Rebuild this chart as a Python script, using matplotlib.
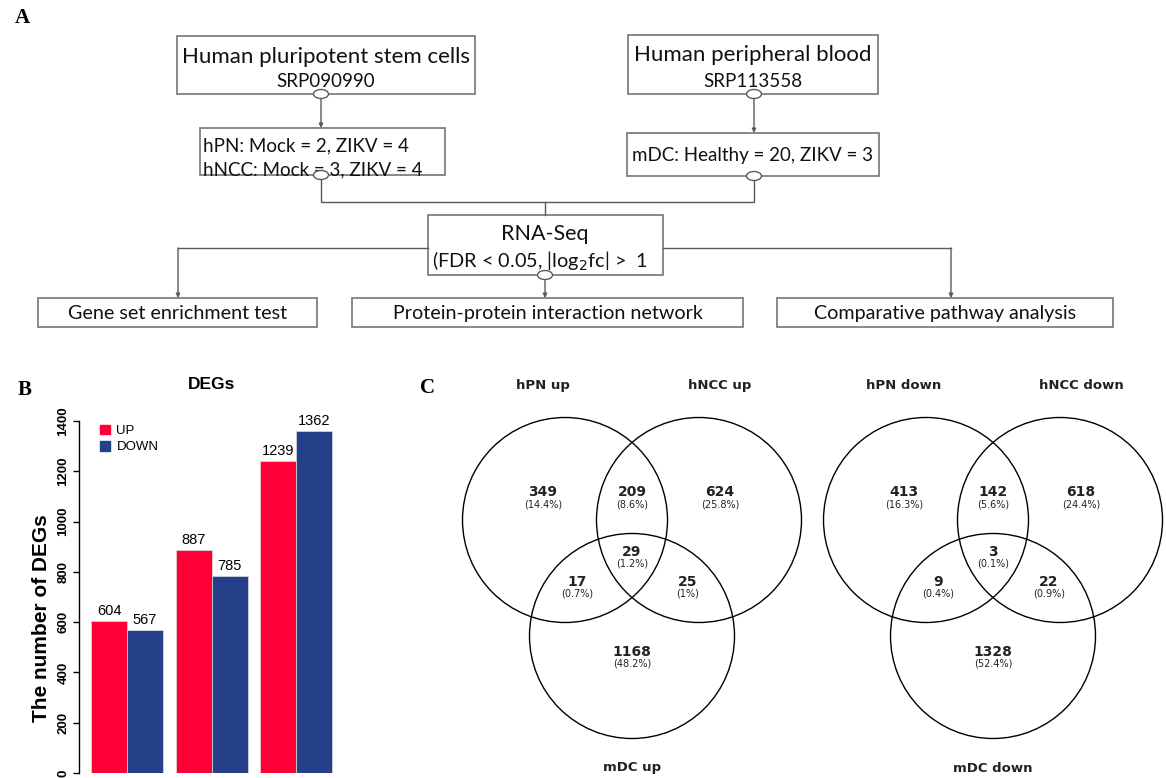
import matplotlib
matplotlib.use("Agg")
import matplotlib.pyplot as plt
from matplotlib.patches import Rectangle, Ellipse, Circle, Patch
import numpy as np

# ---- data -------------------------------------------------------------
deg_groups = ["hPN", "hNCC", "mDC"]
deg_up = [604, 887, 1239]
deg_down = [567, 785, 1362]
deg_yticks = [0, 200, 400, 600, 800, 1000, 1200, 1400]

venn_up_sets = ["hPN up", "hNCC up", "mDC up"]
venn_down_sets = ["hPN down", "hNCC down", "mDC down"]
# region order: A only, AB, B only, ABC, AC, BC, C only
venn_up_counts = [349, 209, 624, 29, 17, 25, 1168]
venn_down_counts = [413, 142, 618, 3, 9, 22, 1328]

flow_sources = ["Human pluripotent stem cells\nSRP090990", "Human peripheral blood\nSRP113558"]
flow_samples = ["hPN: Mock = 2, ZIKV = 4\nhNCC: Mock = 3, ZIKV = 4", "mDC: Healthy = 20, ZIKV = 3"]
flow_analyses = ["Gene set enrichment test", "Protein-protein interaction network",
                 "Comparative pathway analysis"]

RED = "#ff0036"
BLUE = "#263f89"
BOX_EDGE = "#808080"
LINE = "#5a5a5a"
FLOW_FONT = "Lato"

W, H = 1166, 778
fig = plt.figure(figsize=(W / 100, H / 100), dpi=100)
bg = fig.add_axes([0, 0, 1, 1])
bg.set_xlim(0, W)
bg.set_ylim(H, 0)
bg.axis("off")


def box(x0, y0, x1, y1):
    bg.add_patch(Rectangle((x0, y0), x1 - x0, y1 - y0, fill=False,
                           edgecolor=BOX_EDGE, lw=1.3))


def knob(x, y):
    bg.add_patch(Ellipse((x, y), 15, 9, facecolor="white", edgecolor=LINE,
                         lw=1.0, zorder=5))


def path(xs, ys, arrow=False):
    bg.plot(xs[:-1] if arrow else xs, ys[:-1] if arrow else ys,
            color=LINE, lw=1.0, solid_joinstyle="miter")
    if arrow:
        bg.annotate("", xy=(xs[-1], ys[-1]), xytext=(xs[-2], ys[-2]),
                    arrowprops=dict(arrowstyle="-|>", color=LINE, lw=1.0,
                                    mutation_scale=6, shrinkA=0, shrinkB=0))


def ftext(x, y, s, size=14, ha="center"):
    bg.text(x, y, s, ha=ha, va="center", fontsize=size, family=FLOW_FONT,
            color="#111111")


# ---- panel A : flow chart ---------------------------------------------
bg.text(15, 18, "A", fontsize=15, fontweight="bold", family="Liberation Serif",
        va="center")

box(177, 36, 475, 94)
l1, l2 = flow_sources[0].split("\n")
ftext(326, 57, l1, 16)
ftext(326, 81, l2, 13.5)
box(200, 128, 445, 175)
l1, l2 = flow_samples[0].split("\n")
ftext(203, 146, l1, 13.5, ha="left")
ftext(203, 170, l2, 13.5, ha="left")

box(628, 35, 878, 94)
l1, l2 = flow_sources[1].split("\n")
ftext(753, 55, l1, 16)
ftext(753, 81, l2, 13.5)
box(627, 133, 879, 176)
ftext(753, 155, flow_samples[1], 13.5)

path([321, 321], [98, 128], arrow=True)
path([754, 754], [98, 133], arrow=True)
path([321, 321, 754, 754], [179, 202, 202, 180])
path([545, 545], [202, 215])

box(428, 215, 663, 275)
ftext(545, 234, "RNA-Seq", 15.5)
ftext(540, 261, r"(FDR < 0.05, |log$_2$fc| >  1", 14.3)

path([545, 545], [279, 298], arrow=True)
path([428, 178, 178], [248, 248, 298], arrow=True)
path([663, 951, 951], [248, 248, 298], arrow=True)

for (x0, x1), label in zip([(38, 317), (352, 743), (777, 1113)], flow_analyses):
    box(x0, 298, x1, 327)
    ftext((x0 + x1) / 2, 313, label, 14.2)

for kx, ky in [(321, 94), (321, 175), (754, 94), (754, 176), (545, 275)]:
    knob(kx, ky)

# ---- panel B : bar chart ----------------------------------------------
bg.text(18, 390, "B", fontsize=15, fontweight="bold", family="Liberation Serif",
        va="center")
bg.text(212, 384, "DEGs", fontsize=12.5, fontweight="bold",
        family="Liberation Sans", ha="center", va="center")

ax_l, ax_r, ax_top, ax_bot = 79, 345, 421, 773
bx = fig.add_axes([ax_l / W, (H - ax_bot) / H, (ax_r - ax_l) / W,
                   (ax_bot - ax_top) / H])
bx.patch.set_alpha(0)
step = 2.35
centers = np.arange(len(deg_groups)) * step
bx.bar(centers - 0.5, deg_up, width=1.0, color=RED, edgecolor="#dddddd",
       lw=0.5, label="UP")
bx.bar(centers + 0.5, deg_down, width=1.0, color=BLUE, edgecolor="#dddddd",
       lw=0.5, label="DOWN")
for c, u, d in zip(centers, deg_up, deg_down):
    bx.text(c - 0.5, u + 12, str(u), ha="center", va="bottom", fontsize=10.5,
            family="Liberation Sans")
    bx.text(c + 0.5, d + 12, str(d), ha="center", va="bottom", fontsize=10.5,
            family="Liberation Sans")
bx.set_xlim((ax_l - 127) / 36, (ax_r - 127) / 36)
bx.set_ylim(0, 1400)
bx.set_yticks(deg_yticks)
bx.set_xticks([])
for side in ["top", "right", "bottom"]:
    bx.spines[side].set_visible(False)
bx.spines["left"].set_linewidth(1.0)
bx.tick_params(axis="y", length=4, width=1.0, pad=3, labelrotation=90,
               labelsize=9.5)
for t in bx.get_yticklabels():
    t.set_fontweight("bold")
    t.set_family("Liberation Sans")
    t.set_va("center")
bx.set_ylabel("The number of DEGs", fontsize=15, fontweight="bold",
              family="Liberation Sans")
bx.yaxis.set_label_coords(-0.105, 0.44)
bx.legend(handles=[Patch(color=RED, label="UP"), Patch(color=BLUE, label="DOWN")],
          loc="upper left", bbox_to_anchor=((100 - ax_l) / (ax_r - ax_l), 0.99),
          frameon=False, handlelength=0.75, handleheight=0.75,
          handletextpad=0.5, labelspacing=0.3, borderpad=0, borderaxespad=0,
          prop={"family": "Liberation Sans", "size": 9.5})

# ---- panel C : venn diagrams ------------------------------------------
bg.text(420, 388, "C", fontsize=15, fontweight="bold", family="Liberation Serif",
        va="center")

R = 102.5
circle_off = [(-67, -58), (67, -58), (0, 58)]
region_off = [(-89, -86), (0, -86), (88, -86), (0, -26), (-55, 4), (56, 4), (0, 74)]
set_label_off = [(-89, -193), (88, -193), (0, 190)]


def venn(cx, cy, names, counts):
    total = sum(counts)
    for dx, dy in circle_off:
        bg.add_patch(Circle((cx + dx, cy + dy), R, fill=False, edgecolor="black",
                            lw=1.0))
    for (dx, dy), n in zip(region_off, counts):
        pct = round(100 * n / total, 1)
        bg.text(cx + dx, cy + dy, str(n), ha="center", va="center", fontsize=10,
                fontweight="bold", family="DejaVu Sans", color="#222222")
        bg.text(cx + dx, cy + dy + 12, f"({pct:g}%)", ha="center", va="center",
                fontsize=7, family="DejaVu Sans", color="#222222")
    for (dx, dy), name in zip(set_label_off, names):
        bg.text(cx + dx, cy + dy, name, ha="center", va="center", fontsize=9.5,
                fontweight="bold", family="DejaVu Sans", color="#222222")


venn(632, 578, venn_up_sets, venn_up_counts)
venn(993, 578, venn_down_sets, venn_down_counts)

fig.savefig("out.png", dpi=100)
